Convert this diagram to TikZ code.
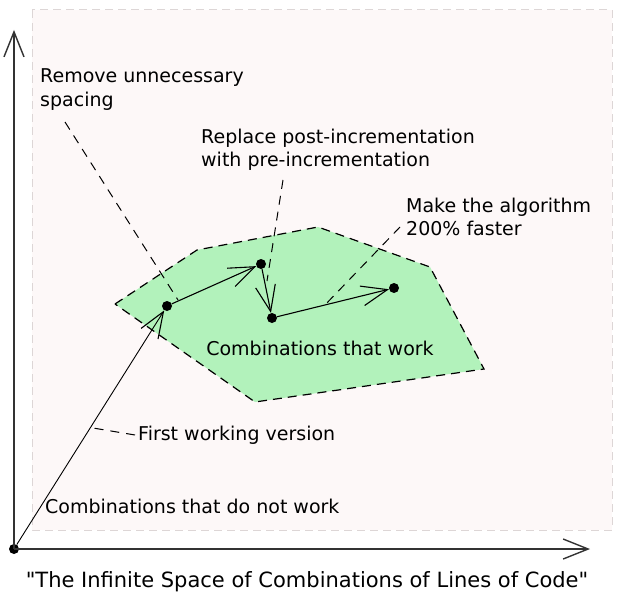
\documentclass[tikz,border=0pt]{standalone}
\usepackage{fontspec}
\setmainfont{DejaVu Sans}
\usetikzlibrary{arrows.meta}
\definecolor{canvas}{HTML}{FDF8F8}
\definecolor{canvasline}{HTML}{DDD6D6}
\definecolor{workfill}{HTML}{B2F2BB}
\definecolor{axisgray}{HTML}{333333}

\begin{document}
\begin{tikzpicture}[x=1pt,y=-1pt,
  dot/.style={circle,fill=black,inner sep=0pt,minimum size=10pt},
  lbl/.style={font=\fontsize{19}{23.5}\selectfont,inner sep=0pt,align=left},
  hop/.style={line width=1.1pt,-{Straight Barb[length=26pt,width=20pt,line width=1.1pt]}},
  axis/.style={line width=1.6pt,draw=axisgray,-{Straight Barb[length=25pt,width=20pt,line width=1.4pt]}},
  leader/.style={line width=1pt,dash pattern=on 9pt off 7pt}]
\useasboundingbox (0,0) rectangle (621,607);
% canvas
\draw[canvasline,fill=canvas,line width=1pt,dash pattern=on 8pt off 5pt] (32,10) rectangle (612,530);
% region of working combinations
\coordinate (p1) at (115,304);
\coordinate (p2) at (197,250);
\coordinate (p3) at (318,227);
\coordinate (p4) at (430,267);
\coordinate (p5) at (484,369);
\coordinate (p6) at (255,402);
\draw[fill=workfill,line width=1.2pt,dash pattern=on 9pt off 6pt] (p1) -- (p2) -- (p3) -- (p4) -- (p5) -- (p6) -- cycle;

\node[dot] (origin) at (14,549) {};
\node[dot] (v1) at (167,306) {};
\node[dot] (v2) at (261,264) {};
\node[dot] (v3) at (272,318) {};
\node[dot] (v4) at (394,288) {};
\coordinate (ytip) at (14,30);
\coordinate (xtip) at (590,549);

% labels
\node[lbl,anchor=north west] (lblspacing) at (40,68.5) {Remove unnecessary\\spacing};
\node[lbl,anchor=north west] (lblincr) at (201,128.5) {Replace post-incrementation\\with pre-incrementation};
\node[lbl,anchor=north west] (lblfaster) at (406,197.5) {Make the algorithm\\200\% faster};
\node[lbl,anchor=base] (lblworks) at (320,355) {Combinations that work};
\node[lbl,anchor=base west] (lblfirst) at (138,440) {First working version};
\node[lbl,anchor=base west] (lblfails) at (45,513) {Combinations that do not work};
\node[lbl,anchor=base,font=\fontsize{21}{25}\selectfont] (lblxaxis) at (307,587) {\textquotedbl The Infinite Space of Combinations of Lines of Code\textquotedbl};

% leader lines
\coordinate (s1) at (65,122);   \coordinate (e1) at (178,300);
\coordinate (s2) at (283,180);  \coordinate (e2) at (267,281);
\coordinate (s3) at (400,227);  \coordinate (e3) at (323,307);
\coordinate (s4) at (135,435);  \coordinate (e4) at (93,428);
\draw[leader] (s1) -- (e1);
\draw[leader] (s2) -- (e2);
\draw[leader] (s3) -- (e3);
\draw[leader] (s4) -- (e4);

% axes
\draw[axis] (origin.center) -- (ytip);
\draw[axis] (origin.center) -- (xtip);

% steps
\draw[hop,line width=0.9pt] (origin) -- (v1);
\draw[hop] (v1) -- (v2);
\draw[hop] (v2) -- (v3);
\draw[hop] (v3) -- (v4);
\end{tikzpicture}
\end{document}
